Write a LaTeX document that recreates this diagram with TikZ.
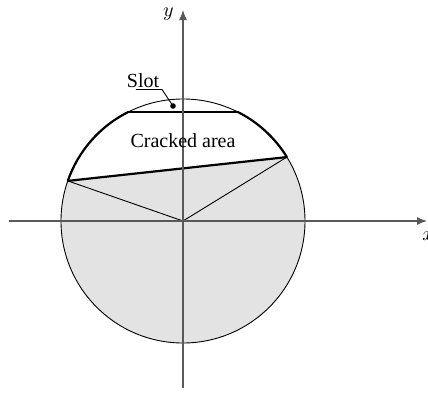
\documentclass[tikz,border=0pt]{standalone}
\usepackage{fontspec}
\setmainfont{Liberation Serif}
\usepackage{tikz}
\usetikzlibrary{
  calc,
  positioning,
  arrows.meta
}

\begin{document}
\begin{tikzpicture}[> =Latex, x=0.5pt, y=0.5pt]
  \tikzset{
    axis/.style={draw=black!65, line width=0.6pt,
      -{Latex[length=5pt,width=4pt]}},
    thin line/.style={line width=0.45pt},
    thick line/.style={line width=1.1pt},
  }
  \useasboundingbox (-183,-171) rectangle (245,221);
  \def\R{122}
  \coordinate (o) at (0,0);
  \coordinate (a) at (160.8:\R);
  \coordinate (b) at (31.6:\R);
  \coordinate (s1) at (63.3:\R);
  \coordinate (s2) at (116.7:\R);
  \coordinate (xs) at (-174,0);
  \coordinate (xe) at (244,0);
  \coordinate (ys) at (0,-167);
  \coordinate (ye) at (0,211);

  % uncracked part
  \fill[black!11] (a) arc[start angle=160.8, end angle=391.6, radius=\R] -- cycle;
  \draw[thin line] (o) circle[radius=\R];

  % cracked area
  \draw[thick line] (b) arc[start angle=31.6, end angle=63.3, radius=\R];
  \draw[thick line] (s2) arc[start angle=116.7, end angle=160.8, radius=\R];
  \draw[thick line] (a) -- (b);
  \draw[thick line] (s1) -- (s2);
  \draw[thin line] (a) -- (o) -- (b);

  % axes
  \draw[axis] (xs) -- (xe) node[below right=2pt and -6pt] {$x$};
  \draw[axis] (ys) -- (ye) node[left=1pt, pos=0.99] {$y$};

  % labels
  \node (crack) at (0,80) {Cracked area};
  \node[anchor=base] (slot) at (-40,134) {Slot};
  \coordinate (dot) at (-10,115);
  \fill (dot) circle (2.8);
  \draw[thin line] ($(slot.base)+(-7,-2.5)$) -- ($(slot.base)+(19,-2.5)$) -- (dot);
\end{tikzpicture}
\end{document}
